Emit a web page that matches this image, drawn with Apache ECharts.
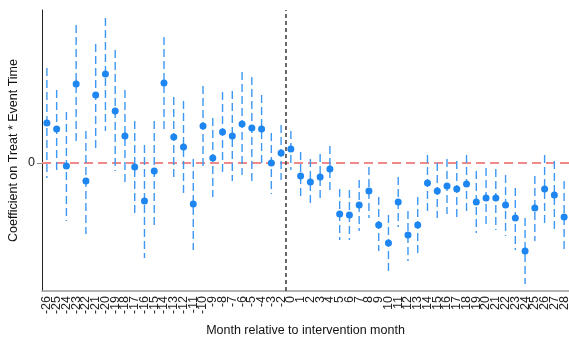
<!DOCTYPE html>
<html>
<head>
<meta charset="utf-8">
<script src="https://cdn.jsdelivr.net/npm/echarts@6/dist/echarts.min.js"></script>
<style>html,body{margin:0;padding:0;background:#fff}#c{width:569px;height:337px}</style>
</head>
<body>
<div id="c"></div>
<script>
// Event-time categories (month -1 is the omitted reference period)
const months = ['-26','-25','-24','-23','-22','-21','-20','-19','-18','-17','-16','-15','-14','-13','-12','-11','-10','-9','-8','-7','-6','-5','-4','-3','-2',
  '0','1','2','3','4','5','6','7','8','9','10','11','12','13','14','15','16','17','18','19','20','21','22','23','24','25','26','27','28'];
// Point estimates
const estimate = [0.40,0.34,-0.03,0.79,-0.18,0.68,0.89,0.52,0.27,-0.04,-0.38,-0.08,0.80,0.26,0.16,-0.41,0.37,0.05,0.31,0.27,0.39,0.35,0.34,0.00,0.10,
  0.14,-0.13,-0.19,-0.14,-0.06,-0.51,-0.52,-0.42,-0.28,-0.62,-0.80,-0.39,-0.72,-0.62,-0.20,-0.28,-0.23,-0.26,-0.21,-0.39,-0.35,-0.35,-0.42,-0.55,-0.88,-0.45,-0.26,-0.32,-0.54];
// Confidence interval upper bounds
const upper = [0.95,0.73,0.51,1.38,0.32,1.19,1.45,1.13,0.73,0.42,0.18,0.42,1.26,0.66,0.62,0.04,0.77,0.45,0.71,0.72,0.91,0.86,0.68,0.30,0.38,
  0.32,0.11,0.04,0.09,0.17,-0.26,-0.27,-0.17,-0.04,-0.34,-0.52,-0.14,-0.48,-0.34,0.08,0.00,0.04,0.02,0.08,-0.08,-0.05,-0.06,-0.12,-0.25,-0.55,-0.13,0.08,0.02,-0.18];
// Confidence interval lower bounds
const lower = [-0.15,-0.09,-0.58,0.18,-0.71,0.15,0.32,-0.08,-0.20,-0.50,-0.95,-0.62,0.33,-0.16,-0.31,-0.87,-0.03,-0.34,-0.11,-0.18,-0.12,-0.18,-0.03,-0.31,-0.17,
  -0.07,-0.37,-0.43,-0.37,-0.29,-0.77,-0.77,-0.68,-0.55,-0.88,-1.08,-0.64,-0.98,-0.91,-0.48,-0.55,-0.51,-0.55,-0.51,-0.70,-0.65,-0.67,-0.73,-0.87,-1.21,-0.78,-0.61,-0.66,-0.89];
const yTickValues = [0];
const yRange = [-1.28, 1.53];
const xTitle = 'Month relative to intervention month';
const yTitle = 'Coefficient on Treat * Event Time';

// intervention line sits between the last pre-period and month 0
const interventionPos = (months.indexOf('-2') + months.indexOf('0')) / 2;
const xSpan = [-0.5, months.length - 0.5];

const font = 'Liberation Sans, Arial, sans-serif';
const chart = echarts.init(document.getElementById('c'), null, {renderer: 'canvas'});
chart.setOption({
  animation: false,
  backgroundColor: '#fff',
  grid: {left: 42, right: 0, top: 10, bottom: 46, containLabel: false, outerBoundsMode: 'none'},
  xAxis: [{
    type: 'category',
    data: months,
    boundaryGap: true,
    name: xTitle,
    nameLocation: 'middle',
    nameGap: 33,
    nameMoveOverlap: false,
    nameTextStyle: {fontFamily: font, fontSize: 12.5, color: '#111', verticalAlign: 'top'},
    axisLine: {onZero: false, lineStyle: {color: '#9a9a9a', width: 1.5}},
    axisTick: {alignWithLabel: true, length: 4, lineStyle: {color: '#777'}},
    axisLabel: {rotate: 90, interval: 0, fontFamily: font, fontSize: 12.5, color: '#222', margin: 5},
    splitLine: {show: false}
  }, {
    type: 'value', min: xSpan[0], max: xSpan[1], show: false,
    axisLine: {show: false, onZero: false}, splitLine: {show: false}
  }],
  yAxis: {
    type: 'value',
    min: yRange[0], max: yRange[1],
    name: yTitle,
    nameLocation: 'middle',
    nameGap: 22,
    nameMoveOverlap: false,
    nameTextStyle: {fontFamily: font, fontSize: 12.5, color: '#111'},
    axisLine: {show: true, onZero: false, lineStyle: {color: '#222', width: 1}},
    axisTick: {show: true, customValues: yTickValues, length: 5, lineStyle: {color: '#888'}},
    axisLabel: {customValues: yTickValues, fontFamily: font, fontSize: 12.5, color: '#222', margin: 7},
    splitLine: {show: false}
  },
  series: [{
    type: 'line',
    name: 'zero',
    xAxisIndex: 1,
    z: 1,
    silent: true,
    showSymbol: false,
    symbol: 'none',
    lineStyle: {color: '#f08a8a', type: [9, 5], width: 2},
    data: [[xSpan[0], 0], [xSpan[1], 0]]
  }, {
    type: 'custom',
    name: 'ci',
    z: 2,
    data: months.map((m, i) => [m, lower[i], upper[i]]),
    encode: {x: 0, y: [1, 2]},
    renderItem: function (params, api) {
      const x = api.value(0);
      const p1 = api.coord([x, api.value(2)]);
      const p2 = api.coord([x, api.value(1)]);
      return {
        type: 'line',
        shape: {x1: p1[0], y1: p1[1], x2: p2[0], y2: p2[1]},
        style: {stroke: '#3c98f2', lineWidth: 1.4, lineDash: [8, 4]}
      };
    }
  }, {
    type: 'scatter',
    name: 'estimate',
    z: 3,
    symbol: 'circle',
    symbolSize: 7,
    itemStyle: {color: '#1e86f0', opacity: 1},
    data: months.map((m, i) => [m, estimate[i]])
  }, {
    type: 'line',
    name: 'intervention',
    xAxisIndex: 1,
    z: 4,
    silent: true,
    showSymbol: false,
    symbol: 'none',
    lineStyle: {color: '#444', type: [4, 3], width: 1.6},
    data: [[interventionPos, yRange[0]], [interventionPos, yRange[1]]]
  }]
});
</script>
</body>
</html>
